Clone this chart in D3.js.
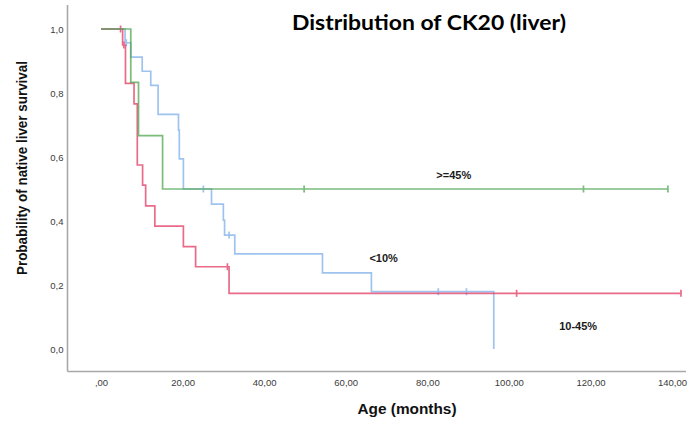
<!DOCTYPE html>
<html><head><meta charset="utf-8">
<script src="https://cdn.jsdelivr.net/npm/d3@7"></script>
<style>
html,body{margin:0;padding:0;background:#fff;}
svg{display:block;}
</style></head>
<body>
<svg id="chart" width="689" height="421"></svg>
<script>
// ---- Data ----
const groupNames = [">=45%", "10-45%", "<10%"];

// >=45% (green)
const hiTimes = [0, 7.3, 9.2, 15.1];
const hiSurv  = [1.0, 0.833, 0.667, 0.5];
const hiEnd   = 139.0;
const hiCensor = [49.8, 118.3, 139.0];

// 10-45% (red)
const midTimes = [0, 5.3, 6.0, 8.1, 8.9, 10.2, 10.95, 13.2, 20.2, 23.2, 31.4];
const midSurv  = [1.0, 0.95, 0.83, 0.766, 0.575, 0.512, 0.447, 0.384, 0.32, 0.257, 0.174];
const midEnd   = 142.2;
const midCensor = [4.8, 5.6, 31.0, 101.9, 142.2];

// <10% (blue)
const loTimes = [0, 5.9, 7.3, 10.1, 12.2, 14.0, 19.0, 19.2, 20.2, 27.1, 30.0, 30.3, 32.8, 54.3, 66.3, 96.3];
const loSurv  = [1.0, 0.957, 0.912, 0.868, 0.824, 0.733, 0.684, 0.594, 0.50, 0.453, 0.403, 0.356, 0.297, 0.238, 0.179, 0.0];
const loEnd   = 96.3;
const loCensor = [6.2, 25.1, 31.4, 82.7, 89.6];

const xTicks = [0, 20, 40, 60, 80, 100, 120, 140];
const xTickLabels = [",00", "20,00", "40,00", "60,00", "80,00", "100,00", "120,00", "140,00"];
const yTicks = [0, 0.2, 0.4, 0.6, 0.8, 1.0];
const yTickLabels = ["0,0", "0,2", "0,4", "0,6", "0,8", "1,0"];

// ---- Layout ----
const svg = d3.select("#chart");
const x = d3.scaleLinear().domain([0, 140]).range([101, 672]);
const y = d3.scaleLinear().domain([0, 1]).range([349, 29]);
const axisLeftX = 67.5, axisBottomY = 371.5, axisTopY = 5, axisRightX = 686;

const series = [
  {name: groupNames[2], times: loTimes, surv: loSurv, end: loEnd, censor: loCensor, color: "#7fb0ea", label: [69.3, 0.284]},
  {name: groupNames[1], times: midTimes, surv: midSurv, end: midEnd, censor: midCensor, color: "#e23a62", label: [117.0, 0.072]},
  {name: groupNames[0], times: hiTimes, surv: hiSurv, end: hiEnd, censor: hiCensor, color: "#4fa64f", label: [86.5, 0.544]}
];

// axes (no tick marks, SPSS-like)
const axisG = svg.append("g");
const yAxis = d3.axisLeft(y).tickValues(yTicks).tickSize(0).tickPadding(4)
  .tickFormat((d,i) => yTickLabels[i]);
const xAxis = d3.axisBottom(x).tickValues(xTicks).tickSize(0).tickPadding(6)
  .tickFormat((d,i) => xTickLabels[i]);

const gy = axisG.append("g").attr("transform", `translate(${axisLeftX},0)`).call(yAxis);
gy.select(".domain").remove();
const gx = axisG.append("g").attr("transform", `translate(0,${axisBottomY})`).call(xAxis);
gx.select(".domain").remove();
axisG.selectAll(".tick text")
  .attr("font-family", "Liberation Sans, Arial, sans-serif")
  .attr("font-size", 9.5).attr("fill", "#3a3a3a");
gx.selectAll(".tick text").attr("dy", "0.9em");

axisG.append("line").attr("x1", axisLeftX).attr("x2", axisLeftX)
  .attr("y1", axisTopY).attr("y2", axisBottomY).attr("stroke", "#a8a8a8").attr("stroke-width", 1.6);
axisG.append("line").attr("x1", axisLeftX).attr("x2", axisRightX)
  .attr("y1", axisBottomY).attr("y2", axisBottomY).attr("stroke", "#a8a8a8").attr("stroke-width", 1.6);

// curves
const line = d3.line().x(d => x(d[0])).y(d => y(d[1])).curve(d3.curveStepAfter);
function survAt(s, t) {
  let v = s.surv[0];
  for (let i = 0; i < s.times.length; i++) if (s.times[i] <= t) v = s.surv[i];
  return v;
}
series.forEach(s => {
  const pts = s.times.map((t,i) => [t, s.surv[i]]);
  pts.push([s.end, s.surv[s.surv.length-1]]);
  const g = svg.append("g").attr("opacity", 0.75);
  g.append("path").datum(pts).attr("d", line)
    .attr("fill", "none").attr("stroke", s.color).attr("stroke-width", 1.7);
  g.selectAll("line.c").data(s.censor).enter().append("line")
    .attr("x1", d => x(d)).attr("x2", d => x(d))
    .attr("y1", d => y(survAt(s, d)) - 3.5).attr("y2", d => y(survAt(s, d)) + 3.5)
    .attr("stroke", s.color).attr("stroke-width", 1.7);
});

// group labels
series.forEach(s => {
  svg.append("text").attr("x", x(s.label[0])).attr("y", y(s.label[1]))
    .attr("text-anchor", "middle").attr("dy", "0.35em")
    .attr("font-family", "Liberation Sans, Arial, sans-serif").attr("font-weight", "bold")
    .attr("font-size", 11).attr("fill", "#1a1a1a").text(s.name);
});

// titles
svg.append("text").attr("x", 429).attr("y", 30).attr("text-anchor", "middle")
  .attr("font-family", "Lato, 'Open Sans', sans-serif").attr("font-weight", "bold")
  .attr("font-size", 21).attr("fill", "#000")
  .attr("textLength", 274).attr("lengthAdjust", "spacingAndGlyphs")
  .text("Distribution of CK20 (liver)");

svg.append("text").attr("x", 407).attr("y", 414).attr("text-anchor", "middle")
  .attr("font-family", "Liberation Sans, Arial, sans-serif").attr("font-weight", "bold")
  .attr("font-size", 14).attr("fill", "#111")
  .attr("textLength", 99).attr("lengthAdjust", "spacingAndGlyphs")
  .text("Age (months)");

svg.append("text").attr("transform", "translate(27,168) rotate(-90)")
  .attr("text-anchor", "middle")
  .attr("font-family", "Liberation Sans, Arial, sans-serif").attr("font-weight", "bold")
  .attr("font-size", 14).attr("fill", "#111")
  .attr("textLength", 214).attr("lengthAdjust", "spacingAndGlyphs")
  .text("Probability of native liver survival");
</script>
</body></html>
